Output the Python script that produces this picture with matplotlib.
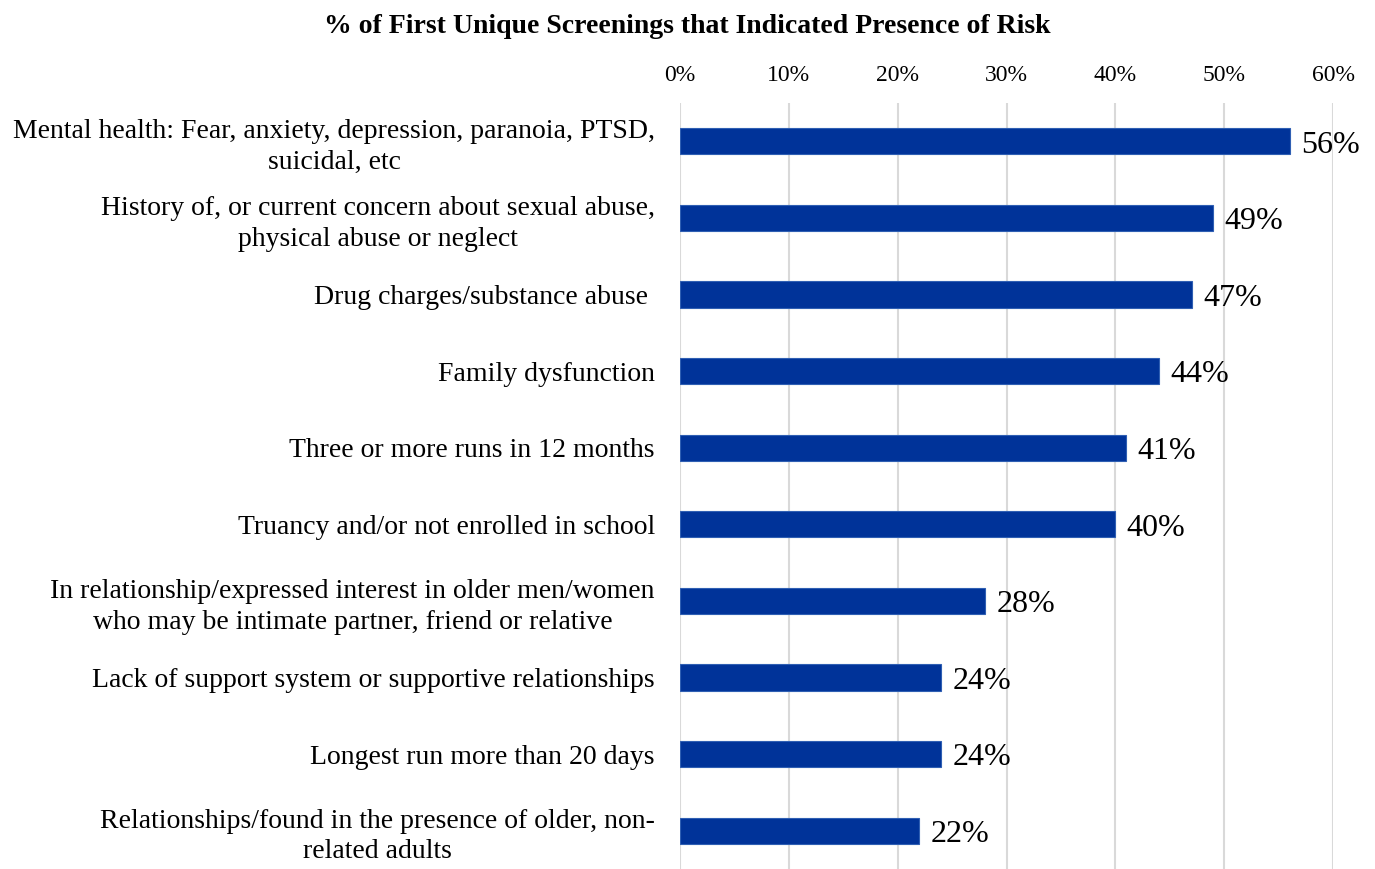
import matplotlib.pyplot as plt
from matplotlib.ticker import PercentFormatter

plt.rcParams['font.family'] = ['Liberation Serif', 'DejaVu Serif']

risk_factors = [
    "Mental health: Fear, anxiety, depression, paranoia, PTSD,\nsuicidal, etc",
    "History of, or current concern about sexual abuse,\nphysical abuse or neglect",
    "Drug charges/substance abuse ",
    "Family dysfunction",
    "Three or more runs in 12 months",
    "Truancy and/or not enrolled in school",
    "In relationship/expressed interest in older men/women\nwho may be intimate partner, friend or relative",
    "Lack of support system or supportive relationships",
    "Longest run more than 20 days",
    "Relationships/found in the presence of older, non-\nrelated adults",
]
pct_present = [0.56, 0.49, 0.47, 0.44, 0.41, 0.40, 0.28, 0.24, 0.24, 0.22]
x_ticks = [0, 0.1, 0.2, 0.3, 0.4, 0.5, 0.6]

fig = plt.figure(figsize=(13.75, 8.69), dpi=100)
ax = fig.add_axes([0.4945, 0.0, 0.475, 0.8815])

y = range(len(risk_factors))
ax.barh(y, pct_present, height=0.34, color='#003399', edgecolor='#2f5fb3',
        linewidth=0.8, zorder=3)

# value labels just past the bar ends
for yi, v in zip(y, pct_present):
    ax.text(v + 0.0105, yi + 0.05, f"{v:.0%}", va='center', ha='left', fontsize=23)

ax.set_xlim(0, 0.6)
ax.set_ylim(len(risk_factors) - 0.5, -0.5)
ax.set_xticks(x_ticks)
ax.xaxis.set_major_formatter(PercentFormatter(1.0, decimals=0))
ax.xaxis.tick_top()
ax.tick_params(axis='x', length=0, pad=12, labelsize=17)
ax.set_yticks(list(y))
ax.set_yticklabels(risk_factors, fontsize=20, multialignment='center',
                   linespacing=1.3)
ax.tick_params(axis='y', length=0, pad=18)
ax.grid(axis='x', color='#d9d9d9', linewidth=1.5, zorder=0)
for s in ax.spines.values():
    s.set_visible(False)

fig.text(0.5, 0.97, "% of First Unique Screenings that Indicated Presence of Risk",
         ha='center', va='center', fontsize=20, fontweight='bold')

fig.savefig('out.png', dpi=100)
